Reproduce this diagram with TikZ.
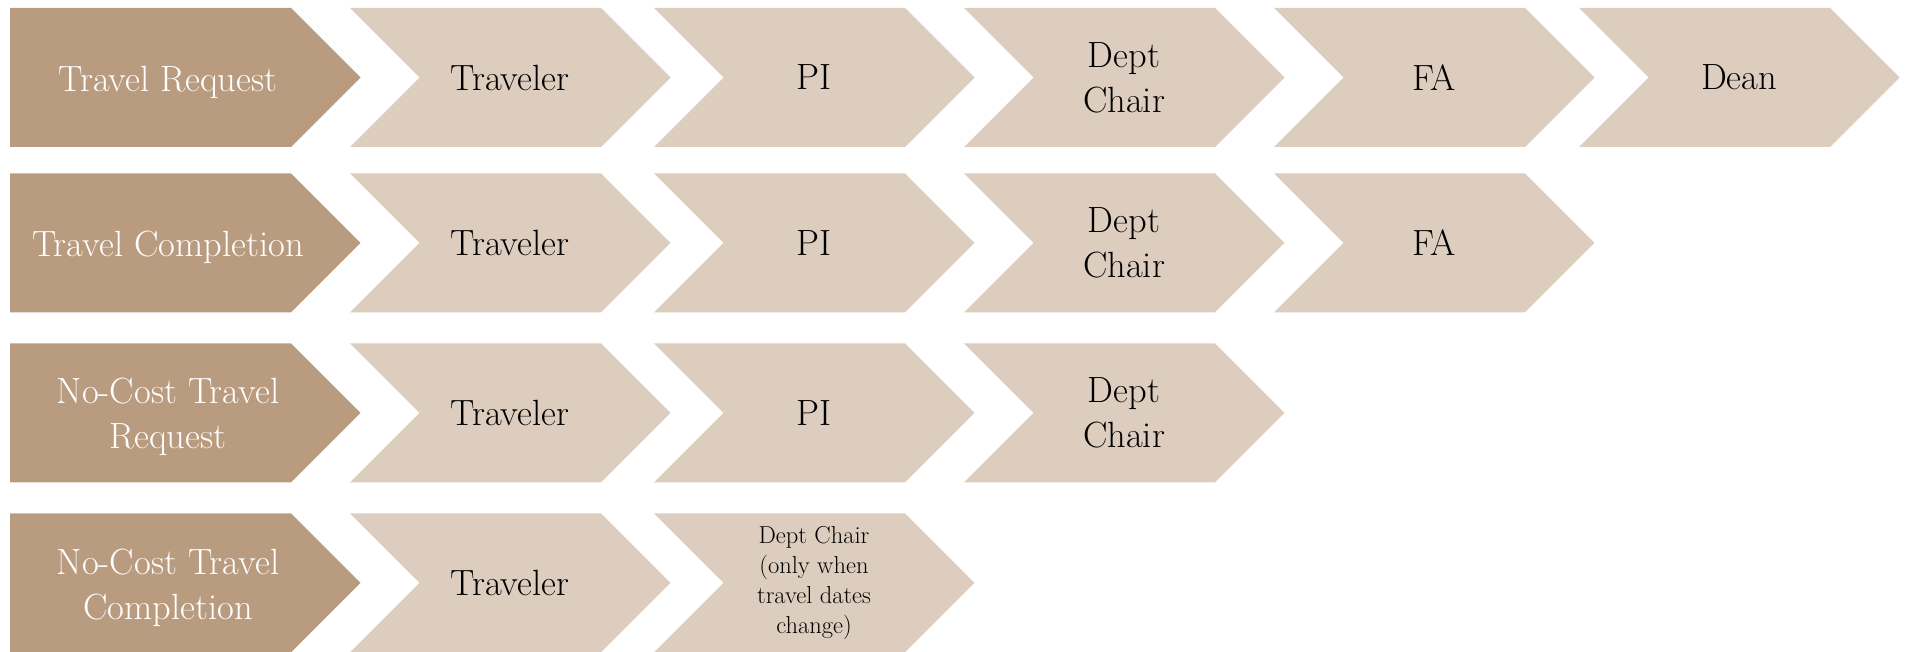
\documentclass[tikz,border=0pt]{standalone}
\usepackage{fontspec}
\definecolor{headcol}{RGB}{185,155,127}
\definecolor{chevcol}{RGB}{221,205,191}
\tikzset{
  headbox/.style={fill=headcol},
  chevbox/.style={fill=chevcol},
  headtext/.style={text=white,align=center,inner sep=0pt,font=\fontsize{36.5}{45}\selectfont},
  chevtext/.style={text=black,align=center,inner sep=0pt,font=\fontsize{36.5}{45}\selectfont},
  smalltext/.style={text=black,align=center,inner sep=0pt,font=\fontsize{24.5}{30}\selectfont},
}
% #1 node name, #2 left x, #3 top y, #4 text style, #5 text
\newcommand{\mychev}[5]{%
  \fill[chevbox] (#2,#3) -- ++(251,0) -- ++(69.5,69.5) -- ++(-69.5,69.5) -- ++(-251,0) -- ++(69.5,-69.5) -- cycle;
  \node[#4] (#1) at ({#2+160},{#3+69.5}) {#5};
}
\newcommand{\myhead}[3]{%
  \fill[headbox] (10,#2) -- (291,#2) -- (360.5,{#2+69.5}) -- (291,{#2+139}) -- (10,{#2+139}) -- cycle;
  \node[headtext] (#1) at (168,{#2+74}) {#3};
}
\begin{document}
\begin{tikzpicture}[x=1pt,y=-1pt]
\useasboundingbox (0,0) rectangle (1906,652);
% Row 1
\myhead{h1}{8}{Travel Request}
\mychev{a1}{350}{8}{chevtext}{Traveler}
\mychev{a2}{654}{8}{chevtext}{PI}
\mychev{a3}{964}{8}{chevtext}{Dept\\Chair}
\mychev{a4}{1274}{8}{chevtext}{FA}
\mychev{a5}{1579}{8}{chevtext}{Dean}
% Row 2
\myhead{h2}{173.3}{Travel Completion}
\mychev{b1}{350}{173.3}{chevtext}{Traveler}
\mychev{b2}{654}{173.3}{chevtext}{PI}
\mychev{b3}{964}{173.3}{chevtext}{Dept\\Chair}
\mychev{b4}{1274}{173.3}{chevtext}{FA}
% Row 3
\myhead{h3}{343.3}{No-Cost Travel\\Request}
\mychev{c1}{350}{343.3}{chevtext}{Traveler}
\mychev{c2}{654}{343.3}{chevtext}{PI}
\mychev{c3}{964}{343.3}{chevtext}{Dept\\Chair}
% Row 4
\myhead{h4}{513.3}{No-Cost Travel\\Completion}
\mychev{d1}{350}{513.3}{chevtext}{Traveler}
\mychev{d2}{654}{513.3}{smalltext}{Dept Chair\\(only when\\travel dates\\change)}
\end{tikzpicture}
\end{document}
